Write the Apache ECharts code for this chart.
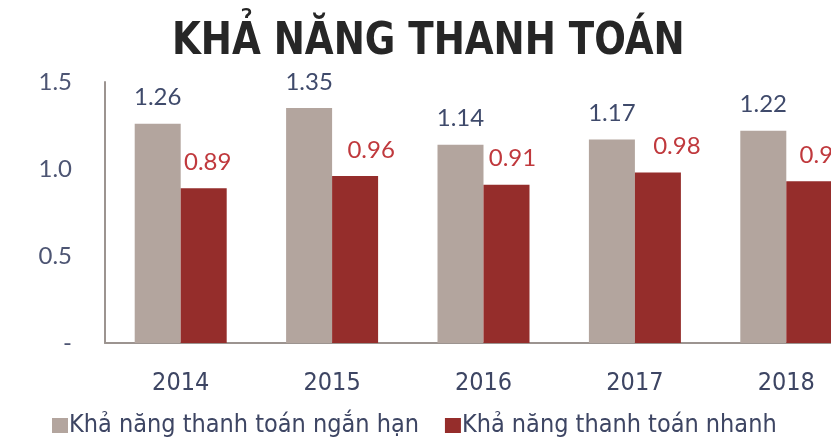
<!DOCTYPE html>
<html><head><meta charset="utf-8">
<script src="https://cdn.jsdelivr.net/npm/echarts@6/dist/echarts.min.js"></script>
<style>html,body{margin:0;padding:0;background:#fff;overflow:hidden}#c{width:866px;height:437px}</style>
</head><body><div id="c"></div>
<script>
const title = 'KHẢ NĂNG THANH TOÁN';
const categories = ['2014', '2015', '2016', '2017', '2018'];
const seriesNames = ['Khả năng thanh toán ngắn hạn', 'Khả năng thanh toán nhanh'];
const shortTerm = [1.26, 1.35, 1.14, 1.17, 1.22];
const quick = [0.89, 0.96, 0.91, 0.98, 0.93];
const yTicks = [0, 0.5, 1.0, 1.5];
const quickLabelShift = [4, 16, 6, 19, 14];

const narrow = 'DejaVu Sans Condensed';
const navy = '#3d4563';
const chart = echarts.init(document.getElementById('c'));
chart.setOption({
  animation: false,
  graphic: [{
    type: 'text', left: 172, top: 21, scaleX: 0.94,
    style: { text: title, font: 'bold 44px "DejaVu Sans Condensed"', fill: '#262626' }
  }],
  legend: {
    data: seriesNames, left: 47, top: 408, itemWidth: 16, itemHeight: 15, itemGap: 26,
    icon: 'rect',
    textStyle: { fontFamily: narrow, fontSize: 25, color: navy, padding: [0, 0, 0, -4] }
  },
  grid: { left: 105, top: 82, width: 757, height: 261 },
  xAxis: {
    type: 'category', data: categories,
    axisLine: { lineStyle: { color: '#9c9490', width: 2 } },
    axisTick: { show: false },
    axisLabel: { margin: 28, fontFamily: narrow, fontSize: 25, color: navy }
  },
  yAxis: {
    type: 'value', min: yTicks[0], max: yTicks[yTicks.length - 1], interval: 0.5,
    axisLine: { show: true, lineStyle: { color: '#9c9490', width: 2 } },
    axisTick: { show: false },
    splitLine: { show: false },
    axisLabel: {
      margin: 33, fontFamily: 'Lato', fontSize: 24, color: '#4d5573',
      formatter: v => v === 0 ? '-' : v.toFixed(1)
    }
  },
  series: [
    {
      name: seriesNames[0], type: 'bar', data: shortTerm, barWidth: 46, barGap: '0%',
      itemStyle: { color: '#b3a59e' },
      label: { show: true, position: 'top', distance: 14, fontFamily: 'Lato', fontSize: 24, color: '#3f4a6b',
        formatter: p => p.value.toFixed(2) }
    },
    {
      name: seriesNames[1], type: 'bar', barWidth: 46,
      data: quick.map((v, i) => ({ value: v, label: { offset: [quickLabelShift[i], 0] } })),
      itemStyle: { color: '#952d2b' },
      label: { show: true, position: 'top', distance: 14, fontFamily: 'Lato', fontSize: 24, color: '#c0393d',
        formatter: p => p.value.toFixed(2) }
    }
  ]
});
</script></body></html>
